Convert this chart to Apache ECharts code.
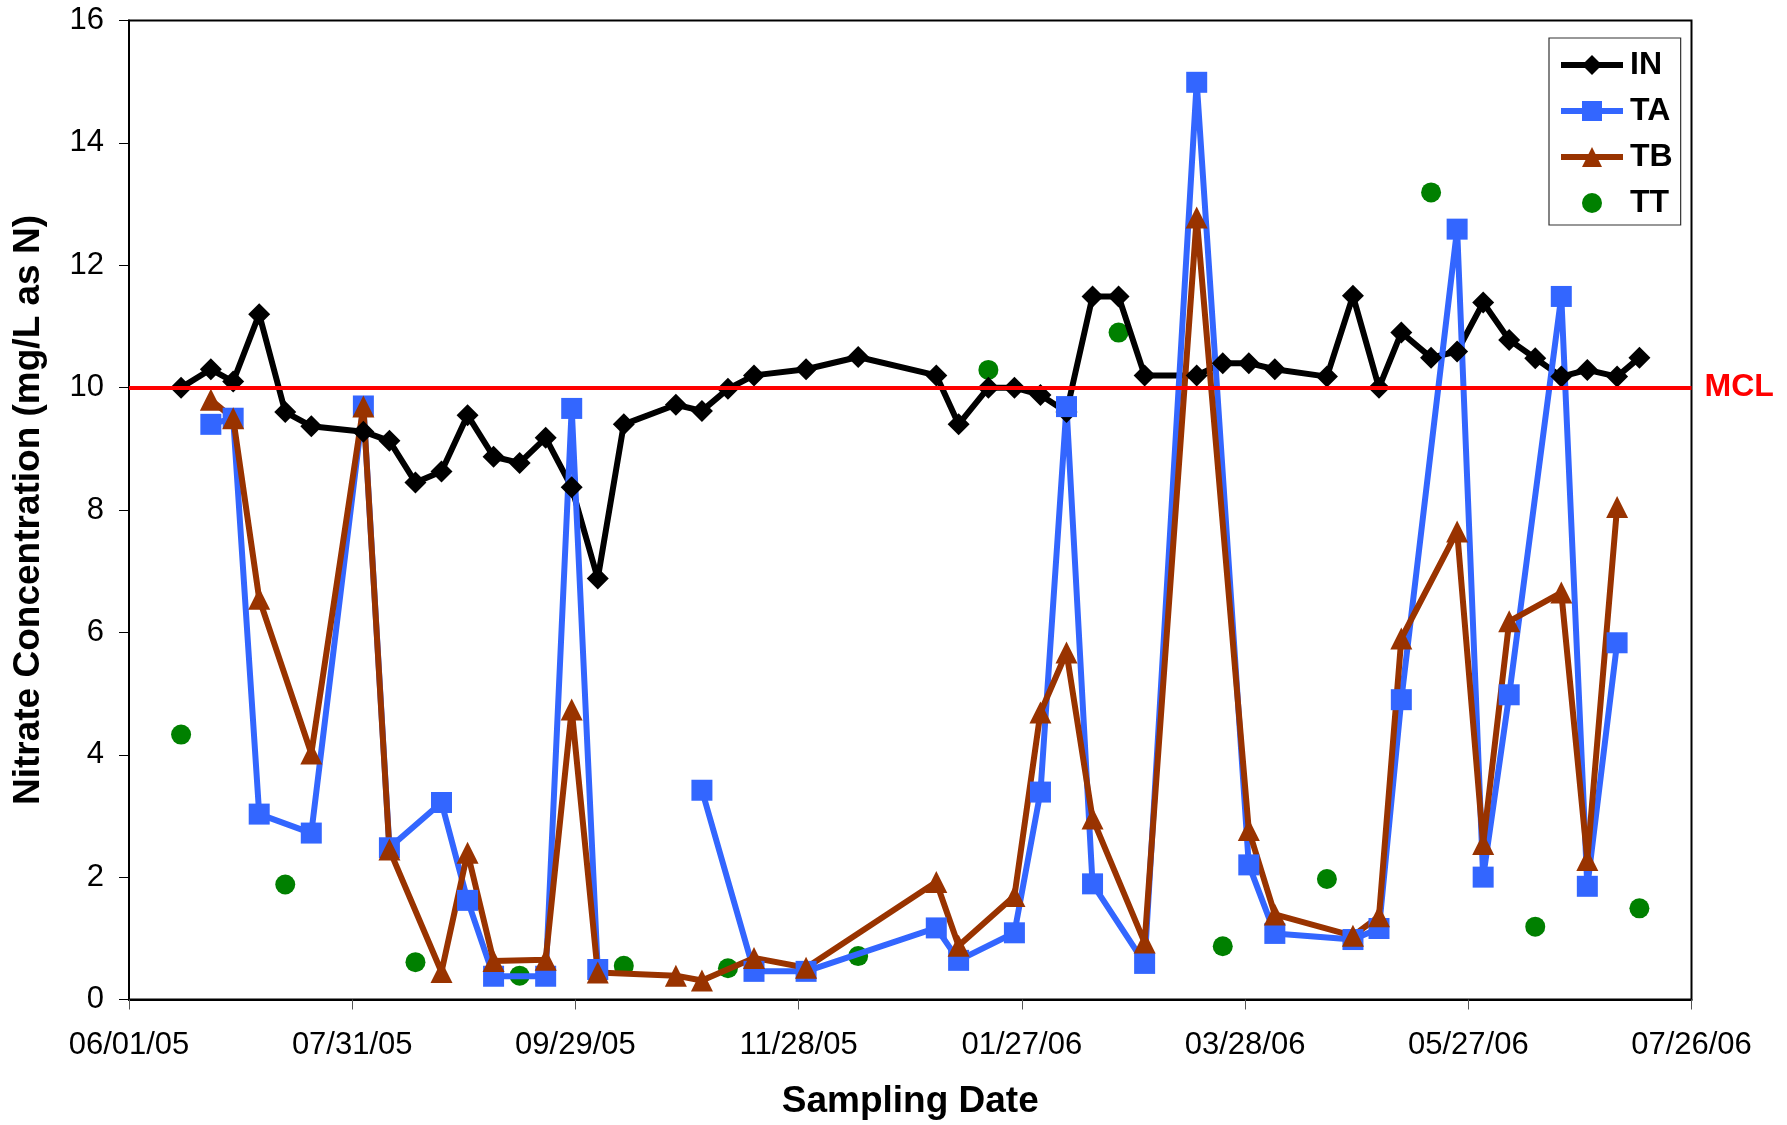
<!DOCTYPE html>
<html><head><meta charset="utf-8">
<script src="https://cdn.jsdelivr.net/npm/echarts@6/dist/echarts.min.js"></script>
<style>html,body{margin:0;padding:0;background:#fff}#c{width:1787px;height:1125px}</style>
</head><body><div id="c"></div>
<script>
const dates = ['2005-06-15','2005-06-23','2005-06-29','2005-07-06','2005-07-13','2005-07-20','2005-08-03','2005-08-10','2005-08-17','2005-08-24','2005-08-31','2005-09-07','2005-09-14','2005-09-21','2005-09-28','2005-10-05','2005-10-12','2005-10-26','2005-11-02','2005-11-09','2005-11-16','2005-11-30','2005-12-14','2006-01-04','2006-01-10','2006-01-18','2006-01-25','2006-02-01','2006-02-08','2006-02-15','2006-02-22','2006-03-01','2006-03-15','2006-03-22','2006-03-29','2006-04-05','2006-04-19','2006-04-26','2006-05-03','2006-05-09','2006-05-17','2006-05-24','2006-05-31','2006-06-07','2006-06-14','2006-06-21','2006-06-28','2006-07-06','2006-07-12'];
const IN = [10.0,10.3,10.1,11.2,9.6,9.37,9.28,9.13,8.45,8.63,9.55,8.87,8.77,9.18,8.37,6.88,9.4,9.72,9.62,9.98,10.2,10.3,10.5,10.2,9.4,10.0,10.0,9.88,9.6,11.49,11.49,10.2,10.2,10.4,10.4,10.3,10.18,11.5,10.0,10.9,10.49,10.59,11.39,10.78,10.48,10.18,10.29,10.18,10.49];
// '-' marks a break in the TA line (no connection across it)
const TA = [null,9.4,9.5,3.03,null,2.72,9.7,2.48,null,3.22,1.62,0.38,null,0.38,9.66,0.49,'-',null,3.42,null,0.46,0.46,null,1.17,0.64,null,1.09,3.39,9.69,1.89,null,0.59,14.99,null,2.2,1.08,null,0.98,1.16,4.9,null,12.59,2.0,4.98,null,11.49,1.85,5.83,null];
const TB = [null,9.8,9.5,6.55,null,4.02,9.69,2.45,null,0.45,2.4,0.63,null,0.65,4.74,0.44,null,0.39,0.31,null,0.68,0.52,null,1.92,0.88,null,1.69,4.69,5.67,2.96,null,0.93,12.78,null,2.77,1.39,null,1.04,1.36,5.9,null,7.65,2.54,6.18,null,6.65,2.28,8.05,null];
const TT = [4.33,null,null,null,1.88,null,null,null,0.61,null,null,null,0.39,null,null,null,0.55,null,null,0.51,null,null,0.71,null,null,10.29,null,null,null,null,10.9,null,null,0.87,null,null,1.97,null,null,null,13.19,null,null,null,1.19,null,null,null,1.49];
const xTickLabels = ['06/01/05','07/31/05','09/29/05','11/28/05','01/27/06','03/28/06','05/27/06','07/26/06'];
const yTicks = [0,2,4,6,8,10,12,14,16];
const MCL = 10;

const base = Date.UTC(2005,5,1);
function dayOf(s){const p=s.split('-').map(Number);return (Date.UTC(p[0],p[1]-1,p[2])-base)/86400000;}
function pts(vals){return dates.map((d,i)=>[dayOf(d),vals[i]]).filter(p=>p[1]!==null);}

const FONT='"Liberation Sans", Arial, Helvetica, sans-serif';
const LW = 6;
const chart = echarts.init(document.getElementById('c'), null, {renderer:'canvas'});
const lineCommon = {type:'line', emphasis:{disabled:true}, connectNulls:false, showAllSymbol:true};
chart.setOption({
  animation:false,
  backgroundColor:'#fff',
  textStyle:{fontFamily:FONT},
  grid:{left:129, right:95.5, top:20.5, bottom:125.5, show:true, borderColor:'#000', borderWidth:2, backgroundColor:'#fff', outerBoundsMode:'none', containLabel:false},
  xAxis:{type:'value', min:0, max:420, interval:60,
    axisLine:{show:true, onZero:false, lineStyle:{color:'#000', width:2}},
    axisTick:{show:true, inside:false, length:10, lineStyle:{color:'#555', width:1}},
    splitLine:{show:false},
    axisLabel:{show:true, fontSize:31, color:'#000', margin:30, fontFamily:FONT, showMaxLabel:true, showMinLabel:true,
      formatter:v=>xTickLabels[Math.round(v/60)]},
    name:'Sampling Date', nameLocation:'middle', nameGap:84, nameMoveOverlap:false,
    nameTextStyle:{fontSize:37, fontWeight:'bold', color:'#000', fontFamily:FONT}},
  yAxis:{type:'value', min:yTicks[0], max:yTicks[yTicks.length-1], interval:2,
    axisLine:{show:true, onZero:false, lineStyle:{color:'#000', width:2}},
    axisTick:{show:true, inside:false, length:10, lineStyle:{color:'#000', width:1}},
    splitLine:{show:false},
    axisLabel:{show:true, fontSize:31, color:'#000', margin:25, fontFamily:FONT},
    name:'Nitrate Concentration (mg/L as N)', nameLocation:'middle', nameRotate:90, nameGap:82, nameMoveOverlap:false,
    nameTextStyle:{fontSize:37, fontWeight:'bold', color:'#000', fontFamily:FONT}},
  legend:{show:true, orient:'vertical', left:1549, top:38, padding:[11,8,6,9],
    borderColor:'#333', borderWidth:1.2, backgroundColor:'#fff',
    itemWidth:62, itemHeight:25, itemGap:14, selectedMode:false,
    lineStyle:{width:LW},
    textStyle:{fontSize:32, fontWeight:'bold', color:'#000', fontFamily:FONT, padding:[0,0,0,2]},
    data:[{name:'IN'},{name:'TA'},{name:'TB'},
      {name:'TT', icon:'path://M0,0M25,25M22.5,12.5A10,10,0,1,1,2.5,12.5A10,10,0,1,1,22.5,12.5Z'}]},
  series:[
    Object.assign({}, lineCommon, {name:'IN', data:pts(IN), symbol:'diamond', symbolSize:22,
      lineStyle:{color:'#000', width:LW}, itemStyle:{color:'#000', opacity:1}}),
    Object.assign({}, lineCommon, {name:'TA', data:pts(TA), symbol:'rect', symbolSize:21,
      lineStyle:{color:'#3366ff', width:LW}, itemStyle:{color:'#3366ff', opacity:1}}),
    Object.assign({}, lineCommon, {name:'TB', data:pts(TB), symbol:'triangle', symbolSize:22,
      lineStyle:{color:'#993300', width:LW}, itemStyle:{color:'#993300', opacity:1}}),
    {name:'TT', type:'scatter', data:pts(TT), symbol:'circle', symbolSize:20, itemStyle:{color:'#008000', opacity:1}, emphasis:{disabled:true}},
    {name:'MCL', type:'line', data:[], z:5,
      markLine:{silent:true, symbol:'none', animation:false,
        lineStyle:{color:'#ff0000', width:4, type:'solid'},
        label:{show:true, position:'end', formatter:'MCL', color:'#ff0000', fontSize:32, fontWeight:'bold', distance:13, fontFamily:FONT},
        data:[{yAxis:MCL}]}}
  ]
});
</script></body></html>
